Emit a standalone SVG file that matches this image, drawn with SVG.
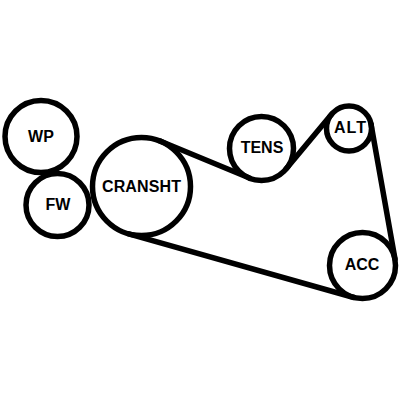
<svg xmlns="http://www.w3.org/2000/svg" width="400" height="400" viewBox="0 0 400 400">
<style>
.p{fill:none;stroke:#000;stroke-width:5.500}
.b{fill:none;stroke:#000;stroke-width:5.500;stroke-linecap:round}
text{font-family:"Liberation Sans",Arial,sans-serif;font-size:16px;font-weight:bold;fill:#000;text-anchor:middle}
</style>
<rect width="400" height="400" fill="#fff"/>
<g id="connectors">
<line class="b" x1="160" y1="141" x2="249.500" y2="178"/>
<line class="b" x1="286" y1="169" x2="331.600" y2="114.200"/>
<line class="b" x1="371" y1="124" x2="395" y2="259"/>
<line class="b" x1="128.700" y1="233.800" x2="353.900" y2="297.500"/>
</g>
<g id="WP"><circle class="p" cx="41" cy="136.500" r="36"/><text x="41" y="142">WP</text></g>
<g id="FW"><circle class="p" cx="57.500" cy="205" r="31.500"/><text x="58" y="210">FW</text></g>
<g id="CRANSHT"><circle class="p" cx="141.500" cy="186.500" r="49"/><text x="141.500" y="192" textLength="79">CRANSHT</text></g>
<g id="TENS"><circle class="p" cx="261.500" cy="148.500" r="32"/><text x="262" y="153">TENS</text></g>
<g id="ALT"><circle class="p" cx="349" cy="128.500" r="22.500"/><text x="350" y="133" textLength="32">ALT</text></g>
<g id="ACC"><circle class="p" cx="362.500" cy="265.500" r="33"/><text x="362" y="270">ACC</text></g>
</svg>
